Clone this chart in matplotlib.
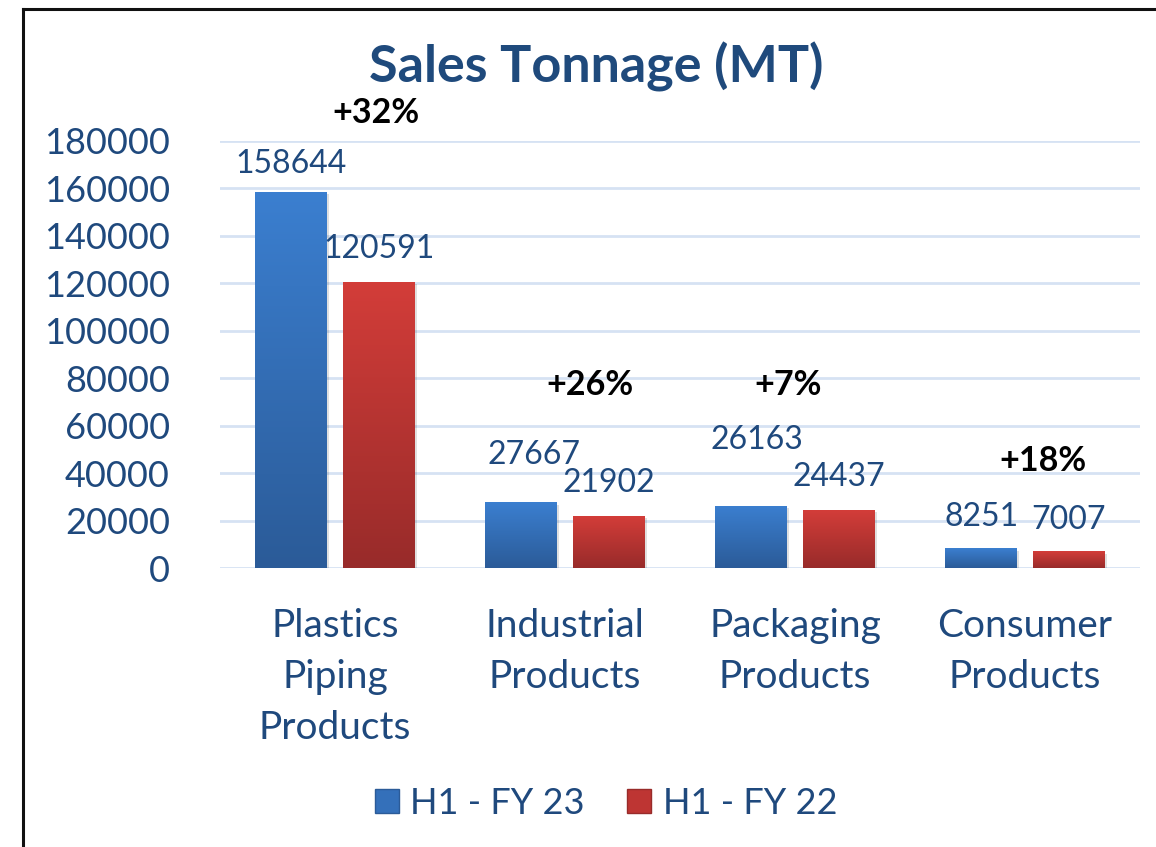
import numpy as np
import matplotlib.pyplot as plt
from matplotlib.colors import LinearSegmentedColormap
from matplotlib.lines import Line2D

plt.rcParams['font.family'] = ['Lato', 'DejaVu Sans']

# Data
categories = ['Plastics\nPiping\nProducts', 'Industrial\nProducts',
              'Packaging\nProducts', 'Consumer\nProducts']
fy23 = [158644, 27667, 26163, 8251]
fy22 = [120591, 21902, 24437, 7007]
series_names = ['H1 - FY 23', 'H1 - FY 22']
growth = ['+32%', '+26%', '+7%', '+18%']
growth_pos = [(0.18, 192000), (1.11, 77000), (1.97, 77000), (3.08, 45000)]

# label offsets above bar top (px) and x nudges (category units)
lab_dy23 = [28, 47, 66, 31]
lab_dx23 = [0.0, 0.055, 0.025, 0.0]
lab_dy22 = [33, 33, 33, 31]

txt = '#1F497D'
blue_top, blue_bot = '#3B7FD0', '#2B5B98'
red_top, red_bot = '#D33D39', '#982B2A'

fig = plt.figure(figsize=(11.56, 8.47), dpi=100)
ax = fig.add_axes([220 / 1156, 1 - 568 / 847, 920 / 1156, 427 / 847])

x = np.arange(len(categories))
w = 0.313
off = 0.19
b1 = ax.bar(x - off, fy23, w, color='none', zorder=3)
b2 = ax.bar(x + off, fy22, w, color='none', zorder=3)

grad = np.linspace(0, 1, 256).reshape(-1, 1)
for bars, top, bot in [(b1, blue_top, blue_bot), (b2, red_top, red_bot)]:
    cmap = LinearSegmentedColormap.from_list('g', [bot, top])
    for p in bars:
        x0, y0, bw, bh = p.get_x(), p.get_y(), p.get_width(), p.get_height()
        # soft shadow
        ax.bar(x0 + bw / 2 + 0.008, bh, bw, bottom=-900, color='#000000',
               alpha=0.12, zorder=2.5)
        im = ax.imshow(grad, extent=[x0, x0 + bw, y0, y0 + bh], origin='lower',
                       cmap=cmap, aspect='auto', zorder=3)
        im.set_clip_path(p)

ax.set_xlim(-0.5, 3.5)
ax.set_ylim(0, 180000)
ax.set_yticks(np.arange(0, 180001, 20000))
ax.set_xticks(x)
ax.set_xticklabels(categories, linespacing=1.52, va='top')
ax.tick_params(axis='y', length=0, pad=36, labelsize=26, labelcolor=txt)
ax.tick_params(axis='x', length=0, pad=29, labelsize=28, labelcolor=txt)
ax.grid(axis='y', color='#D6E2F3', linewidth=2, zorder=0)
for s in ax.spines.values():
    s.set_visible(False)

for i in range(len(categories)):
    ax.annotate(str(fy23[i]), (x[i] - off + lab_dx23[i], fy23[i]),
                xytext=(0, lab_dy23[i] * 0.72), textcoords='offset points',
                ha='center', va='center', fontsize=23, color=txt, zorder=5,
                annotation_clip=False)
    ax.annotate(str(fy22[i]), (x[i] + off, fy22[i]),
                xytext=(0, lab_dy22[i] * 0.72), textcoords='offset points',
                ha='center', va='center', fontsize=23, color=txt, zorder=5,
                annotation_clip=False)
    gx, gy = growth_pos[i]
    ax.text(gx, gy, growth[i], ha='center', va='center', fontsize=24.5,
            fontweight='bold', color='black', clip_on=False)

fig.text(596 / 1156, 1 - 67 / 847, 'Sales Tonnage (MT)', ha='center',
         va='center', fontsize=37.5, fontweight='bold', color='#1F4A7C')

handles = [Line2D([], [], marker='s', linestyle='', markersize=17, color=blue_bot,
                  markerfacecolor='#3470BA'),
           Line2D([], [], marker='s', linestyle='', markersize=17, color=red_bot,
                  markerfacecolor='#BE3533')]
leg = fig.legend(handles, series_names, loc='center', ncol=2,
                 bbox_to_anchor=(603 / 1156, 1 - 803 / 847), frameon=False,
                 fontsize=26, handletextpad=0.15, columnspacing=1.0,
                 handlelength=1.0)
for t in leg.get_texts():
    t.set_color(txt)

# chart border (left and top)
fig.add_artist(Line2D([23 / 1156, 23 / 1156], [0, 1 - 9 / 847], color='#111111',
                      linewidth=2.2, transform=fig.transFigure))
fig.add_artist(Line2D([23 / 1156, 1], [1 - 9 / 847, 1 - 9 / 847], color='#111111',
                      linewidth=2.2, transform=fig.transFigure))

fig.savefig('out.png', dpi=100)
plt.close(fig)
